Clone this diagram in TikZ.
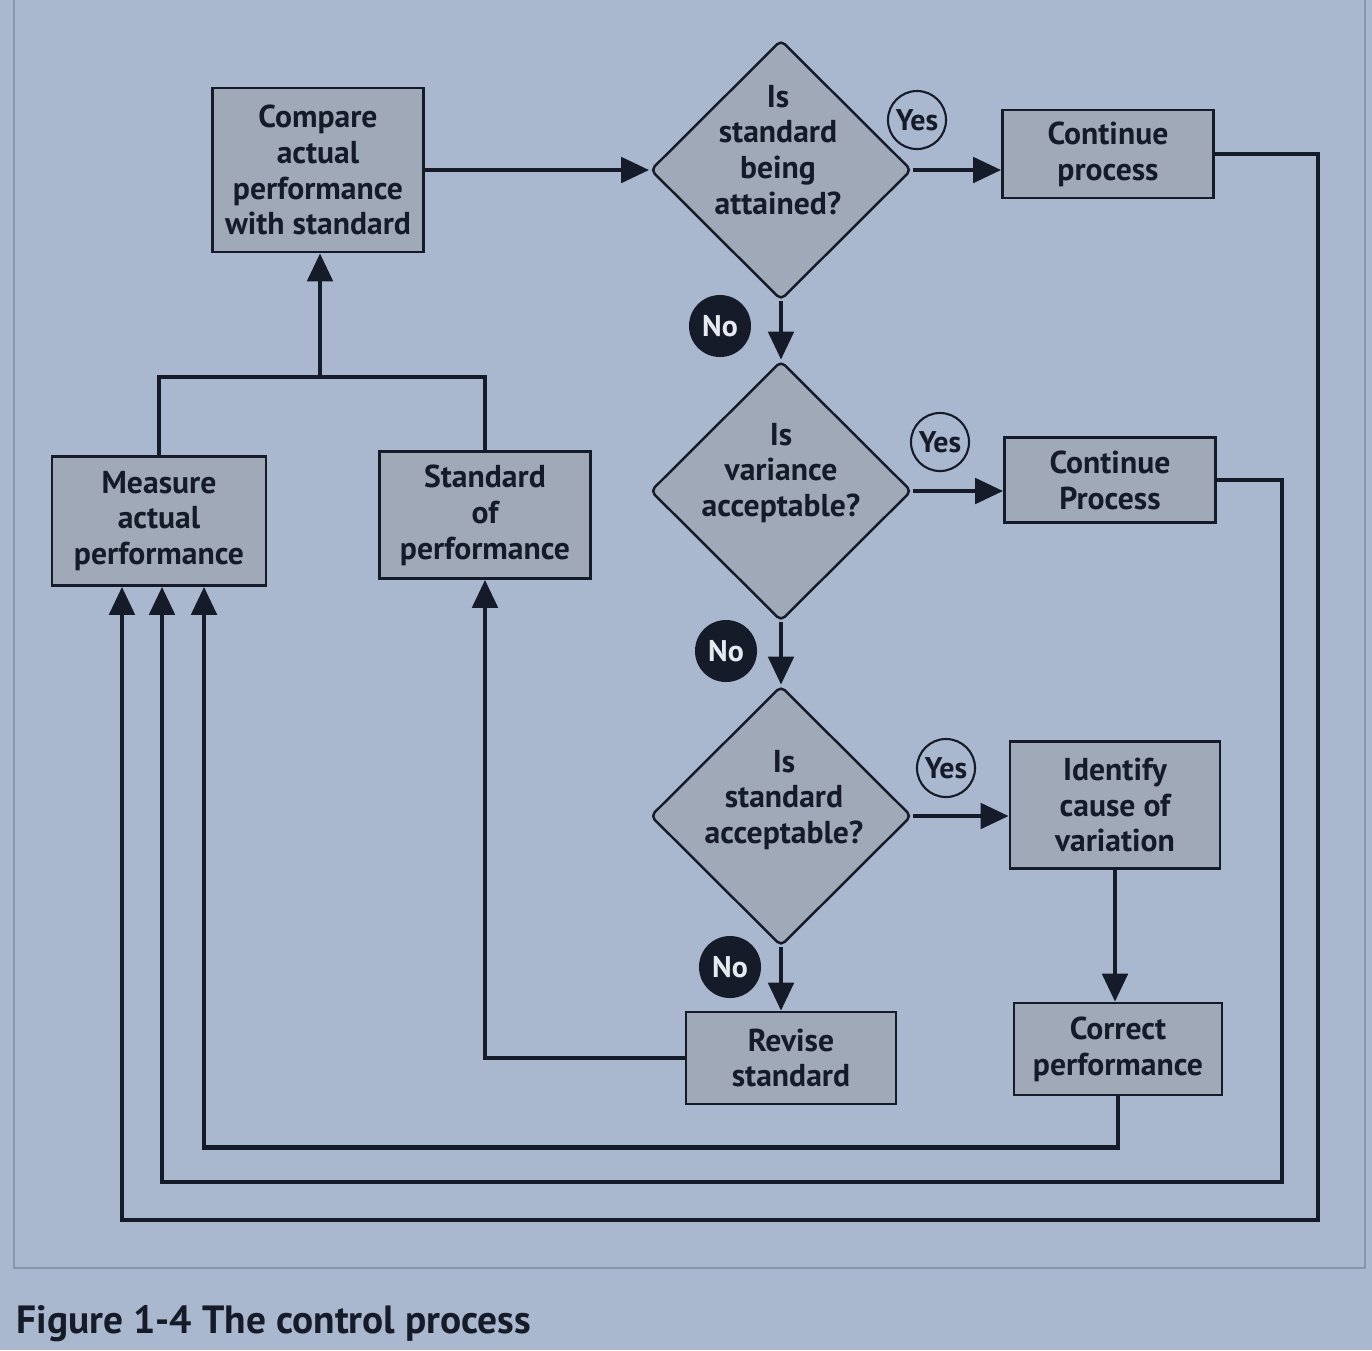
\documentclass[tikz,border=0pt]{standalone}
\usepackage{fontspec}
\setmainfont{PT Sans}
\usetikzlibrary{shapes.geometric, arrows.meta, calc}

\definecolor{page}{HTML}{AAB8CF}
\definecolor{boxfill}{HTML}{A0A9B8}
\definecolor{ink}{HTML}{161B29}
\definecolor{framegray}{HTML}{8A95A8}

\begin{document}
\begin{tikzpicture}[x=0.01cm, y=-0.01cm,
  box/.style={draw=ink, line width=0.7pt, fill=boxfill, inner sep=0pt, align=center, text=ink, font=\fontsize{9}{10.2}\selectfont\bfseries},
  dia/.style={diamond, draw=ink, line width=0.7pt, fill=boxfill, inner sep=0pt, rounded corners=1.5pt, minimum width=2.61cm, minimum height=2.6cm},
  qtext/.style={inner sep=0pt, align=center, text=ink, font=\fontsize{9}{10.2}\selectfont\bfseries},
  yesmark/.style={circle, draw=ink, line width=0.6pt, inner sep=0pt, minimum size=0.58cm, text=ink, font=\fontsize{8.5}{9}\selectfont\bfseries},
  nomark/.style={circle, fill=ink, inner sep=0pt, minimum size=0.62cm, text=page!30!white, font=\fontsize{8.5}{9}\selectfont\bfseries},
  wire/.style={draw=ink, line width=1.4pt},
  arr/.style={wire, -{Triangle[length=0.28cm, width=0.25cm]}}]
\useasboundingbox (0,0) rectangle (1372,1350);
\fill[page] (0,0) rectangle (1372,1350);
\draw[framegray, line width=0.6pt] (14,0) -- (14,1268) -- (1365,1268) -- (1365,0);

\node[box, minimum width=2.11cm, minimum height=1.64cm] (cmp) at (318,170) {Compare\\actual\\performance\\with standard};
\node[box, minimum width=2.14cm, minimum height=1.29cm] (msr) at (159,521) {Measure\\actual\\performance};
\node[box, minimum width=2.11cm, minimum height=1.27cm] (sop) at (485,515) {Standard\\of\\performance};

\node[dia] (att) at (781,170) {};
\node[dia] (var) at (781,491) {};
\node[dia] (sac) at (781,816) {};
\node[qtext] (att-q) at (778,150) {Is\\standard\\being\\attained?};
\node[qtext] (var-q) at (781,473) {Is\\variance\\acceptable?};
\node[qtext] (sac-q) at (784,800) {Is\\standard\\acceptable?};

\node[box, minimum width=2.11cm, minimum height=0.88cm] (cont1) at (1108,154) {Continue\\process};
\node[box, minimum width=2.11cm, minimum height=0.85cm] (cont2) at (1110,480) {Continue\\Process};
\node[box, minimum width=2.10cm, minimum height=1.27cm] (idv) at (1115,805) {Identify\\cause of\\variation};
\node[box, minimum width=2.08cm, minimum height=0.92cm] (cor) at (1118,1049) {Correct\\performance};
\node[box, minimum width=2.10cm, minimum height=0.92cm] (rev) at (791,1058) {Revise\\standard};

\node[yesmark] (y1) at (917,120) {Yes};
\node[yesmark] (y2) at (940,442) {Yes};
\node[yesmark] (y3) at (946,768) {Yes};
\node[nomark] (n1) at (720,326) {No};
\node[nomark] (n2) at (726,651) {No};
\node[nomark] (n3) at (730,967) {No};

\coordinate (join) at (320,377);
\draw[wire] (msr.north) |- (join) -| (sop.north);
\draw[arr] (join) -- (join |- cmp.south);
\draw[arr] (cmp.east) -- (att.west);
\draw[arr] (att.east) -- (att.east -| cont1.west);
\draw[arr] (att.south) -- (var.north);
\draw[arr] (var.east) -- (var.east -| cont2.west);
\draw[arr] (var.south) -- (sac.north);
\draw[arr] (sac.east) -- (sac.east -| idv.west);
\draw[arr] (sac.south) -- (sac.south |- rev.north);
\draw[arr] (idv.south) -- (idv.south |- cor.north);
\draw[arr] (rev.west) -| (sop.south);
\draw[arr] (cor.south) -- ++(0,51) -| ([xshift=0.45cm]msr.south);
\draw[arr] (cont2.east) -| (1282,1182) -| ([xshift=0.03cm]msr.south);
\draw[arr] (cont1.east) -| (1318,1220) -| ([xshift=-0.37cm]msr.south);

\node[anchor=west, inner sep=0pt, text=ink, font=\fontsize{11.2}{13}\selectfont\bfseries] (cap) at (16,1324) {Figure 1-4 The control process};
\end{tikzpicture}
\end{document}
